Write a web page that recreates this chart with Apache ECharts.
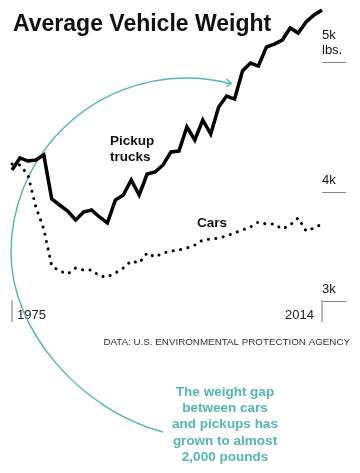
<!DOCTYPE html>
<html>
<head>
<meta charset="utf-8">
<script src="https://cdn.jsdelivr.net/npm/echarts@6/dist/echarts.min.js"></script>
<style>
html,body{margin:0;padding:0;background:#fff;}
#chart{width:360px;height:473px;}
</style>
</head>
<body>
<div id="chart"></div>
<script>
var years = [];
for (var y = 1975; y <= 2014; y++) years.push(y);

var pickupTrucks = [4169,4262,4238,4246,4285,3946,3900,3854,3785,3846,
  3862,3808,3762,3938,3977,4092,3977,4138,4154,4208,
  4308,4315,4500,4400,4554,4446,4654,4738,4715,4931,
  4992,4969,5115,5138,5169,5262,5223,5308,5362,5400];

var cars = [4215,4208,4131,3885,3715,3431,3392,3369,3415,3400,
  3400,3354,3346,3377,3415,3469,3454,3531,3500,3531,
  3546,3554,3569,3592,3631,3638,3646,3662,3685,3708,
  3731,3769,3754,3754,3715,3746,3800,3700,3723,3754];

var xTickValues = [1975, 2014];
var yTickValues = [3160, 4000, 5000];
var yTickLabels = ['3k', '4k', '5k\nlbs.'];

var TEAL = '#52b8b1';
var FONT = "'Liberation Sans', Arial, Helvetica, sans-serif";

function pairs(arr) { return years.map(function (yr, i) { return [yr, arr[i]]; }); }

var chart = echarts.init(document.getElementById('chart'));
chart.setOption({
  animation: false,
  backgroundColor: '#fff',
  title: {
    text: 'Average Vehicle Weight',
    left: 8, top: 8,
    textStyle: { fontSize: 23, fontWeight: 'bold', color: '#111', fontFamily: FONT }
  },
  grid: { left: 12, right: 38, top: 62, bottom: 151, containLabel: false },
  xAxis: {
    type: 'value', min: 1975, max: 2014,
    axisLine: { show: false },
    splitLine: { show: false },
    axisTick: { show: true, inside: true, length: 22, customValues: xTickValues,
      lineStyle: { color: '#a8a8a8', width: 1.5 } },
    axisLabel: {
      show: true, inside: true, margin: 0, customValues: xTickValues,
      formatter: function (v) { return v === xTickValues[0] ? '{a|' + v + '}' : '{b|' + v + '}'; },
      rich: {
        a: { fontSize: 13, color: '#222', fontFamily: FONT, padding: [0, 0, 0, 39] },
        b: { fontSize: 13, color: '#222', fontFamily: FONT, padding: [0, 45, 0, 0] }
      }
    }
  },
  yAxis: {
    type: 'value', position: 'right', min: 3000, max: 5000,
    axisLine: { show: false },
    splitLine: { show: false },
    axisTick: { show: true, inside: false, length: 24, customValues: yTickValues,
      lineStyle: { color: '#888', width: 1 } },
    axisLabel: {
      show: true, margin: 0, customValues: yTickValues,
      verticalAlign: 'bottom', align: 'left',
      padding: [0, 0, 4, 0],
      fontSize: 13, lineHeight: 15, color: '#111', fontFamily: FONT,
      formatter: function (v) { return yTickLabels[yTickValues.indexOf(v)]; }
    }
  },
  series: [
    {
      name: 'Pickup trucks', type: 'line', data: pairs(pickupTrucks),
      symbol: 'none', clip: false, z: 3,
      lineStyle: { color: '#000', width: 3.5, join: 'miter' }
    },
    {
      name: 'Cars', type: 'line', data: pairs(cars),
      symbol: 'none', clip: false, z: 3,
      lineStyle: { color: '#000', width: 3, type: [0.1, 7.4], cap: 'round' }
    }
  ],
  graphic: [
    { type: 'arc', z: 1,
      shape: { cx: 186, cy: 253, r: 175, startAngle: Math.PI, endAngle: Math.PI * 285 / 180, clockwise: true },
      style: { stroke: TEAL, lineWidth: 1.4, fill: null } },
    { type: 'bezierCurve', z: 1,
      shape: { x1: 11, y1: 253, cpx1: 11, cpy1: 330, cpx2: 80, cpy2: 410, x2: 163, y2: 432 },
      style: { stroke: TEAL, lineWidth: 1.4, fill: null } },
    { type: 'polyline', z: 1,
      shape: { points: [[226.5,79],[231,83],[226.5,87]] },
      style: { stroke: TEAL, lineWidth: 1.4, fill: null } },
    { type: 'text', left: 110, top: 133, z: 5,
      style: { text: 'Pickup\ntrucks', font: 'bold 13.5px ' + FONT, fill: '#111', lineHeight: 16 } },
    { type: 'text', left: 197, top: 216, z: 5,
      style: { text: 'Cars', font: 'bold 13.5px ' + FONT, fill: '#111' } },
    { type: 'text', right: 10, top: 337, z: 5,
      style: { text: 'DATA: U.S. ENVIRONMENTAL PROTECTION AGENCY', font: '9.8px ' + FONT, fill: '#333' } },
    { type: 'text', x: 225, y: 384, z: 5,
      style: { text: 'The weight gap\nbetween cars\nand pickups has\ngrown to almost\n2,000 pounds',
        font: 'bold 13.5px ' + FONT, fill: TEAL, lineHeight: 16.3,
        align: 'center', textAlign: 'center', verticalAlign: 'top', textVerticalAlign: 'top' } }
  ]
});
</script>
</body>
</html>
